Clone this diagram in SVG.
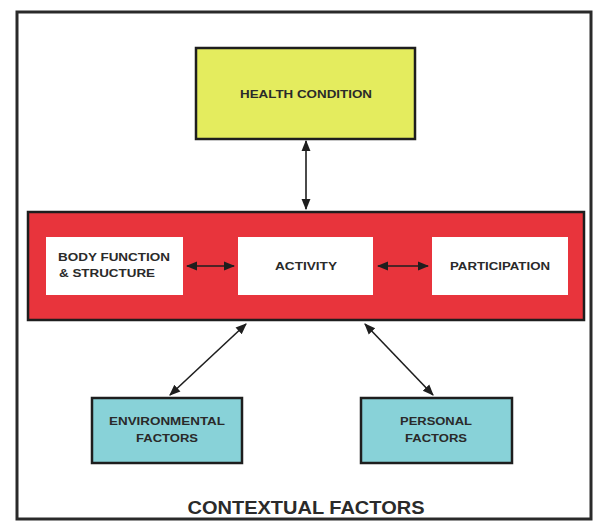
<svg xmlns="http://www.w3.org/2000/svg" width="595" height="521" viewBox="0 0 595 521">
  <style>
    .frame { fill: #ffffff; stroke: #2a2a2a; stroke-width: 3; }
    .box { stroke: #1e1e1e; stroke-width: 2.5; }
    .inner { fill: #ffffff; stroke: none; }
    .lbl { font-family: "Liberation Sans", Arial, sans-serif; font-weight: bold; font-size: 10px; fill: #2a2a2a; text-anchor: middle; }
    .title { font-family: "Liberation Sans", Arial, sans-serif; font-weight: bold; font-size: 18px; fill: #2a2a2a; text-anchor: middle; }
    .link { stroke: #1e1e1e; stroke-width: 1.6; fill: none; marker-start: url(#head); marker-end: url(#head); }
  </style>
  <defs>
    <marker id="head" viewBox="0 0 10 10" refX="9" refY="5" markerWidth="7" markerHeight="7" orient="auto-start-reverse" markerUnits="strokeWidth">
      <path d="M0,1 L10,5 L0,9 Z" fill="#1e1e1e"/>
    </marker>
  </defs>

  <rect x="0" y="0" width="595" height="521" fill="#ffffff"/>
  <!-- outer frame -->
  <rect class="frame" x="17" y="12" width="574" height="507"/>

  <g id="health-condition">
    <rect class="box" x="196" y="48" width="219" height="91" fill="#e4ec5e"/>
    <text class="lbl" x="306" y="98" textLength="132" lengthAdjust="spacingAndGlyphs">HEALTH CONDITION</text>
  </g>

  <g id="functioning">
    <rect class="box" x="28" y="212" width="556" height="108" fill="#e8343c"/>
  </g>

  <g id="body-function">
    <rect class="inner" x="46" y="237" width="137" height="58"/>
    <text class="lbl" x="114" y="261" textLength="112" lengthAdjust="spacingAndGlyphs">BODY FUNCTION</text>
    <text class="lbl" x="107" y="277" textLength="96" lengthAdjust="spacingAndGlyphs">&amp; STRUCTURE</text>
  </g>

  <g id="activity">
    <rect class="inner" x="238" y="237" width="135" height="58"/>
    <text class="lbl" x="306" y="270" textLength="62" lengthAdjust="spacingAndGlyphs">ACTIVITY</text>
  </g>

  <g id="participation">
    <rect class="inner" x="432" y="237" width="136" height="58"/>
    <text class="lbl" x="500" y="270" textLength="100" lengthAdjust="spacingAndGlyphs">PARTICIPATION</text>
  </g>

  <g id="environmental-factors">
    <rect class="box" x="92" y="398" width="150" height="65" fill="#88d2d8"/>
    <text class="lbl" x="167" y="425" textLength="116" lengthAdjust="spacingAndGlyphs">ENVIRONMENTAL</text>
    <text class="lbl" x="167" y="442" textLength="62" lengthAdjust="spacingAndGlyphs">FACTORS</text>
  </g>

  <g id="personal-factors">
    <rect class="box" x="361" y="398" width="151" height="65" fill="#88d2d8"/>
    <text class="lbl" x="436" y="425" textLength="72" lengthAdjust="spacingAndGlyphs">PERSONAL</text>
    <text class="lbl" x="436" y="442" textLength="62" lengthAdjust="spacingAndGlyphs">FACTORS</text>
  </g>

  <g id="connectors">
    <line class="link" x1="306" y1="141" x2="306" y2="209"/>
    <line class="link" x1="187" y1="266" x2="234" y2="266"/>
    <line class="link" x1="378" y1="266" x2="428" y2="266"/>
    <line class="link" x1="246" y1="324" x2="170" y2="395"/>
    <line class="link" x1="365" y1="324" x2="433" y2="395"/>
  </g>

  <text class="title" x="306" y="514" textLength="237" lengthAdjust="spacingAndGlyphs">CONTEXTUAL FACTORS</text>
</svg>
